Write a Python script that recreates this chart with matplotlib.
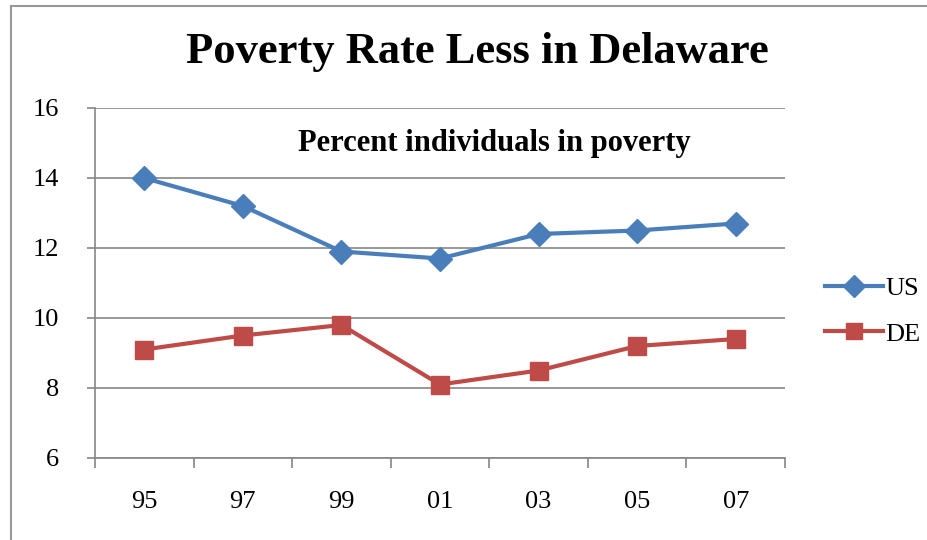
import matplotlib.pyplot as plt
from matplotlib.lines import Line2D

years = ["95", "97", "99", "01", "03", "05", "07"]
us = [14.0, 13.2, 11.9, 11.7, 12.4, 12.5, 12.7]
de = [9.1, 9.5, 9.8, 8.1, 8.5, 9.2, 9.4]

plt.rcParams["font.family"] = ["Liberation Serif", "DejaVu Serif"]
grey = "#868686"

W, H = 928, 540
fig = plt.figure(figsize=(W / 100, H / 100), dpi=100)
ax = fig.add_axes([95 / W, 1 - 458 / H, 690 / W, 350 / H])

x = range(len(years))
ax.plot(x, us, color="#4A7EBB", lw=3, marker="D", ms=12, label="US")
ax.plot(x, de, color="#BE4B48", lw=3, marker="s", ms=13, label="DE")

ax.set_xlim(-0.5, len(years) - 0.5)
ax.set_ylim(6, 16)
ax.set_yticks(range(6, 17, 2))
ax.set_xticks(list(x))
ax.set_xticklabels(years)
ax.set_xticks([i - 0.5 for i in range(len(years) + 1)], minor=True)
ax.tick_params(axis="x", which="major", length=0, pad=24, labelsize=19)
ax.tick_params(axis="x", which="minor", length=7, color=grey, width=1.2)
ax.tick_params(axis="y", length=6, color=grey, width=1.2, pad=20, labelsize=19)

ax.yaxis.grid(True, color=grey, lw=1.2)
ax.set_axisbelow(True)
for s in ["top", "right"]:
    ax.spines[s].set_visible(False)
for s in ["left", "bottom"]:
    ax.spines[s].set_color(grey)
    ax.spines[s].set_linewidth(1.2)

ax.text(0.578, 0.9, "Percent individuals in poverty", transform=ax.transAxes,
        ha="center", va="center", fontsize=22, fontweight="bold")

fig.text(477 / W, 1 - 52 / H, "Poverty Rate Less in Delaware", ha="center",
         va="center", fontsize=32, fontweight="bold")

fig.legend(loc="center left", bbox_to_anchor=(825 / W, 1 - 311 / H),
           borderaxespad=0, borderpad=0, frameon=False, fontsize=19,
           handlelength=2.2, handletextpad=0.1, labelspacing=0.85,
           markerscale=0.9)

# chart border (left and top edges visible)
fig.add_artist(Line2D([11 / W, 11 / W], [0, 1 - 6 / H], color="#999999", lw=1.5))
fig.add_artist(Line2D([11 / W, 1], [1 - 6 / H, 1 - 6 / H], color="#999999", lw=1.5))

fig.savefig("out.png", dpi=100)
